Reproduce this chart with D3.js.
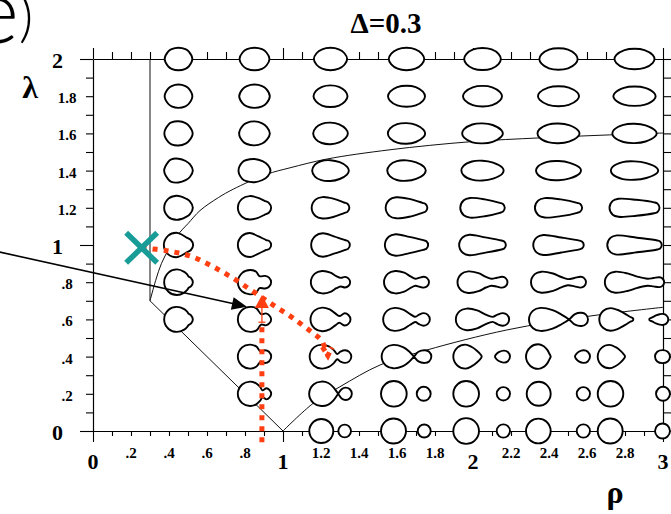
<!DOCTYPE html>
<html>
<head>
<meta charset="utf-8">
<script src="https://cdn.jsdelivr.net/npm/d3@7"></script>
<style>
  body { margin: 0; background: #fff; }
  svg { display: block; }
  .serif { font-family: "Liberation Serif", "Times New Roman", serif; }
</style>
</head>
<body>
<script>
const width = 671, height = 514;

// grid of droplet shapes: column positions (rho) and row values (lambda)
const rho_cols = [0.45, 0.85, 1.25, 1.65, 2.05, 2.45, 2.85];
const lambda_rows = [2, 1.8, 1.6, 1.4, 1.2, 1, 0.8, 0.6, 0.4, 0.2, 0];

// tick labels
const rho_ticks = [0, 0.2, 0.4, 0.6, 0.8, 1, 1.2, 1.4, 1.6, 1.8, 2, 2.2, 2.4, 2.6, 2.8, 3];
const rho_tick_labels = ['0', '.2', '.4', '.6', '.8', '1', '1.2', '1.4', '1.6', '1.8', '2', '2.2', '2.4', '2.6', '2.8', '3'];
const lambda_ticks = [0, 0.2, 0.4, 0.6, 0.8, 1, 1.2, 1.4, 1.6, 1.8, 2];
const lambda_tick_labels = ['0', '.2', '.4', '.6', '.8', '1', '1.2', '1.4', '1.6', '1.8', '2'];

// phase boundaries [rho, lambda]
const wall_line = [[0.3, 2], [0.3, 0.7]];
const lower_left_line = [[0.3, 0.7], [1.0, 0]];
const upper_curve = [[0.3, 0.70], [0.33, 0.81], [0.36, 0.9], [0.40, 0.98], [0.446, 1.055], [0.50, 1.115],
  [0.563, 1.185], [0.66, 1.255], [0.738, 1.30], [0.914, 1.38], [1.037, 1.415], [1.23, 1.462],
  [1.563, 1.512], [1.984, 1.555], [2.353, 1.576], [2.72, 1.592], [3.0, 1.602]];
const lower_curve = [[1.0, 0], [1.159, 0.149], [1.3, 0.238], [1.511, 0.355], [1.756, 0.435],
  [2.177, 0.543], [2.616, 0.618], [3.0, 0.665]];

// annotations [rho, lambda]
const start_mark = [0.256, 0.985];
const red_track = [[0.256, 0.985], [0.388, 0.969], [0.511, 0.941], [0.625, 0.887], [0.738, 0.821],
  [0.844, 0.749], [0.949, 0.677], [1.054, 0.606], [1.159, 0.525], [1.201, 0.489], [1.236, 0.405]];
const red_track_barbs = [[1.207, 0.452], [1.236, 0.405], [1.258, 0.45]];
const red_rise = { rho: 0.889, from: -0.06, dots_to: 0.585, tip: 0.731 };
const black_arrow = [[-0.5, 0.964], [0.81, 0.668]];

// droplet outlines, in hundredths of rho, relative to the cell centre:
// [left end, right end, left cap radius, right cap radius, [u, half height, ...]]
const shapes_2_0 = [
  [[-7.29, 7.29, 4.85, 4.85, [.25, 5.15, .5, 5.95, .75, 5.15]]],
  [[-7.89, 7.89, 4.48, 4.48, [.25, 5.15, .5, 5.95, .75, 5.15]]],
  [[-8.76, 8.76, 3.96, 3.96, [.25, 5.11, .5, 5.89, .75, 5.11]]],
  [[-9.34, 9.34, 3.72, 3.72, [.25, 5.11, .5, 5.89, .75, 5.11]]],
  [[-9.66, 9.66, 3.47, 3.47, [.25, 5.02, .5, 5.79, .75, 5.02]]],
  [[-10.08, 10.08, 3.15, 3.15, [.25, 4.88, .5, 5.63, .75, 4.88]]],
  [[-10.53, 10.53, 2.79, 2.79, [.25, 4.69, .5, 5.42, .75, 4.69]]]
];
const shapes_1_8 = [
  [[-7.29, 7.29, 5.2, 5.2, [.25, 5.33, .5, 6.16, .75, 5.33]]],
  [[-8.05, 8.05, 4.71, 4.71, [.25, 5.33, .5, 6.16, .75, 5.33]]],
  [[-8.95, 8.95, 3.61, 3.61, [.25, 4.92, .5, 5.68, .75, 4.92]]],
  [[-9.74, 9.74, 3.14, 3.14, [.25, 4.78, .5, 5.53, .75, 4.78]]],
  [[-10.26, 10.26, 2.86, 2.86, [.25, 4.69, .5, 5.42, .75, 4.69]]],
  [[-10.79, 10.79, 2.57, 2.57, [.25, 4.56, .5, 5.26, .75, 4.56]]],
  [[-11.13, 11.13, 2.34, 2.34, [.25, 4.42, .5, 5.1, .75, 4.42]]]
];
const shapes_1_6 = [
  [[-7.45, 7.45, 6.05, 4.84, [.25, 5.74, .5, 6.37, .75, 5.37]]],
  [[-8.08, 8.08, 5.42, 4.32, [.25, 5.58, .5, 6.32, .75, 5.32]]],
  [[-9.13, 9.13, 4.05, 3.1, [.25, 5.05, .5, 5.68, .75, 4.74]]],
  [[-9.82, 9.82, 3.42, 2.63, [.25, 4.84, .5, 5.42, .75, 4.53]]],
  [[-10.71, 10.71, 2.95, 2.26, [.25, 4.68, .5, 5.26, .75, 4.42]]],
  [[-11.05, 11.05, 2.84, 2.11, [.25, 4.63, .5, 5.21, .75, 4.37]]],
  [[-11.66, 11.66, 2.58, 1.89, [.25, 4.53, .5, 5.1, .75, 4.26]]]
];
const shapes_1_4 = [
  [[-7.55, 7.55, 6.05, 4.4, [.25, 5.95, .5, 6.26, .75, 5.05]]],
  [[-8.42, 8.42, 5.84, 3.8, [.25, 5.58, .5, 6.11, .75, 4.95]]],
  [[-9.66, 9.66, 4.11, 2.8, [.25, 5.05, .5, 5.47, .75, 4.42]]],
  [[-10.13, 10.13, 3.79, 2.6, [.25, 4.95, .5, 5.37, .75, 4.32]]],
  [[-11.13, 11.13, 3.21, 2.2, [.25, 4.79, .5, 5.21, .75, 4.21]]],
  [[-11.84, 11.84, 2.84, 2.0, [.25, 4.63, .5, 5.05, .75, 4.11]]],
  [[-12.45, 12.45, 2.53, 1.75, [.25, 4.47, .5, 4.84, .75, 3.89]]]
];
const shapes_1_2 = [
  [[-7.55, 7.55, 6.32, 4.6, [.418, 6.32, .6, 5.9, .75, 4.9]]],
  [[-8.76, 8.76, 6.16, 3.4, [.351, 6.16, .586, 5.4, .8, 3.7]]],
  [[-9.92, 9.92, 5.63, 2.79, [.284, 5.63, .572, 4.84, .859, 2.79]]],
  [[-10.97, 10.97, 5.53, 2.63, [.252, 5.53, .566, 4.72, .88, 2.63]]],
  [[-11.71, 11.71, 5.16, 2.63, [.22, 5.16, .554, 4.45, .888, 2.63]]],
  [[-12.42, 12.42, 5.11, 2.63, [.206, 5.11, .55, 4.41, .894, 2.63]]],
  [[-13.16, 13.16, 4.74, 2.89, [.18, 4.74, .535, 4.21, .89, 2.89]]]
];
const shapes_1_0 = [
  [[-7.71, 7.71, 6.47, 3.6, [.42, 6.47, .62, 5.4, .78, 3.9]]],
  [[-8.76, 8.76, 6.32, 2.63, [.36, 6.32, .605, 4.66, .85, 2.63]]],
  [[-10.18, 10.18, 6.16, 2.63, [.302, 6.16, .587, 4.57, .871, 2.63]]],
  [[-11.39, 11.39, 5.68, 2.53, [.249, 5.68, .569, 4.26, .889, 2.53]]],
  [[-12.29, 12.29, 5.37, 2.37, [.218, 5.37, .561, 4.02, .904, 2.37]]],
  [[-13.29, 13.29, 5.26, 2.26, [.198, 5.26, .556, 3.92, .915, 2.26]]],
  [[-14.34, 14.34, 5.05, 2.37, [.176, 5.05, .547, 3.84, .917, 2.37]]]
];
const shapes_0_8 = [
  [[-7.55, 7.55, 6.74, 2.89, [.446, 6.74, .7, 5.47, .8, 4.11, .855, 2.95]]],
  [[-8.76, 8.76, 6.42, 3.16, [.366, 6.42, .55, 5.53, .65, 3.16, .82, 3.32]]],
  [[-10.34, 10.34, 5.89, 2.63, [.285, 5.89, .5, 5.05, .65, 3.16, .76, 2.26, .87, 2.79]]],
  [[-11.84, 11.84, 5.89, 2.79, [.249, 5.89, .45, 5.0, .6, 2.89, .7, 1.84, .79, 2.4, .882, 2.85]]],
  [[-13.16, 13.16, 5.68, 2.79, [.216, 5.68, .42, 4.74, .57, 2.79, .68, 1.84, .79, 2.35, .894, 2.85]]],
  [[-14.47, 14.47, 5.53, 2.79, [.19, 5.53, .4, 4.58, .55, 2.74, .67, 1.63, .79, 2.2, .904, 2.85]]],
  [[-15.61, 15.61, 5.53, 2.53, [.177, 5.53, .38, 4.63, .55, 2.95, .72, 1.84, .82, 2.2, .919, 2.6]]]
];
const shapes_0_6 = [
  [[-7.55, 7.55, 6.58, 2.89, [.435, 6.58, .7, 5.37, .8, 4.05, .855, 2.95]]],
  [[-8.76, 8.76, 6.58, 2.79, [.375, 6.58, .56, 5.79, .7, 2.74, .84, 3.16]]],
  [[-10.53, 10.53, 6.21, 3.05, [.295, 6.21, .48, 5.26, .62, 3.16, .72, 1.79, .855, 3.21]]],
  [[-12.29, 12.29, 6.05, 3.26, [.246, 6.05, .44, 5.0, .58, 2.79, .69, 1.37, .77, 2.53, .867, 3.32]]],
  [[-14.03, 14.03, 5.68, 3.26, [.203, 5.68, .4, 4.74, .55, 2.63, .69, 1.32, .78, 2.53, .884, 3.32]]],
  [[-15.53, 15.53, 6.05, -3.42, [.195, 6.05, .4, 4.89, .55, 2.53, .68, 0, .78, -2.79, .89, -3.47]]],
  [[-18.53, -0.63, 5.95, 0.79, [.332, 5.95, .55, 4.95, .75, 3.05, .9, 1.37]],
   [7.79, 17.79, 0.68, 2.79, [.15, 1.05, .35, 2.11, .55, 2.74, .72, 2.89]]]
];
const shapes_0_4 = [
  null,
  [[-8.79, 8.79, 6.32, 3.32, [.36, 6.32, .55, 5.37, .69, 2.53, .81, 3.37]]],
  [[-10.97, 10.97, 6.32, 3.26, [.288, 6.32, .46, 5.42, .58, 3.42, .66, 1.37, .74, 2.63, .851, 3.32]]],
  [[-13.08, 13.08, 6.16, -3.32, [.235, 6.16, .43, 5.0, .55, 2.79, .65, 0, .74, -2.53, .873, -3.32]]],
  [[-15.37, -0.42, 6.32, 1.32, [.42, 6.32, .65, 5.05, .82, 3.26]],
   [6.58, 14.47, 1.32, 3.16, [.25, 2.32, .6, 3.16]]],
  [[-17.11, -4.11, 6.47, 2.11, [.49, 6.47, .72, 5.42, .87, 3.42]],
   [8.68, 16.58, 1.58, 3.32, [.25, 2.53, .58, 3.32]]],
  [[-19.37, -5.0, 6.16, 1.32, [.43, 6.16, .66, 4.95, .83, 3.16]],
   [10.79, 18.68, 3.32, 3.32, [.5, 3.42]]]
];
const shapes_0_2 = [
  null,
  [[-8.79, 8.79, 6.42, 2.63, [.365, 6.42, .55, 5.53, .67, 3.63, .74, 1.84, .86, 2.95]]],
  [[-11.24, 11.24, 6.42, -3.26, [.286, 6.42, .45, 5.68, .57, 3.42, .68, 0, .76, -2.42, .855, -3.26]]],
  [[-13.42, 0.11, 6.76, 6.76, [.5, 6.76]], [5.37, 12.74, 3.68, 3.68, [.5, 3.68]]],
  [[-15.37, -1.84, 6.76, 6.76, [.5, 6.76]], [7.47, 14.47, 3.5, 3.5, [.5, 3.5]]],
  [[-16.74, -4.11, 6.32, 6.32, [.5, 6.32]], [9.58, 16.58, 3.5, 3.5, [.5, 3.5]]],
  [[-19.37, -5.89, 6.74, 6.74, [.5, 6.74]], [11.32, 18.68, 3.68, 3.68, [.5, 3.68]]]
];
const shapes_0_0 = [
  null,
  null,
  [[-11.16, 1.47, 6.32, 6.32, [.5, 6.32]], [4.11, 10.79, 3.34, 3.34, [.5, 3.34]]],
  [[-13.42, -0.26, 6.58, 6.58, [.5, 6.58]], [5.89, 12.74, 3.42, 3.42, [.5, 3.42]]],
  [[-15.37, -1.84, 6.76, 6.76, [.5, 6.76]], [7.47, 14.47, 3.5, 3.5, [.5, 3.5]]],
  [[-17.11, -4.11, 6.5, 6.5, [.5, 6.5]], [9.58, 16.58, 3.5, 3.5, [.5, 3.5]]],
  [[-19.37, -6.21, 6.58, 6.58, [.5, 6.58]], [10.79, 18.68, 3.95, 3.95, [.5, 3.95]]]
];
const shape_rows = [shapes_2_0, shapes_1_8, shapes_1_6, shapes_1_4, shapes_1_2, shapes_1_0,
  shapes_0_8, shapes_0_6, shapes_0_4, shapes_0_2, shapes_0_0];

const red = '#ff3f12';
const teal = '#179c98';

const x = d3.scaleLinear().domain([0, 3]).range([93, 663]);
const y = d3.scaleLinear().domain([0, 2]).range([431, 59]);
const glyph = d3.scaleLinear().domain([0, 100]).range([0, x(1) - x(0)]);

const svg = d3.select('body').append('svg')
  .attr('width', width)
  .attr('height', height);

const is_major = (d) => Math.abs(d - Math.round(d)) < 1e-6;
const tenths = (n) => d3.range(0, n * 10 + 1).map((i) => i / 10);

function draw_axis(axis, transform, minor, major, attr) {
  const g = svg.append('g')
    .attr('transform', transform)
    .call(axis.tickValues(tenths(axis.scale().domain()[1])).tickSize(minor).tickSizeOuter(0).tickFormat(''));
  g.selectAll('.tick line')
    .attr('stroke-width', 1.1)
    .attr(attr, function(d) {
      const v = +d3.select(this).attr(attr);
      return is_major(d) ? Math.sign(v) * major : v;
    });
  g.select('.domain').attr('stroke-width', 1.2);
}

draw_axis(d3.axisBottom(x), 'translate(0,' + y(0) + ')', 5, 11, 'y2');
draw_axis(d3.axisTop(x), 'translate(0,' + y(2) + ')', 7, 11, 'y2');
draw_axis(d3.axisLeft(y), 'translate(' + x(0) + ',0)', 7, 13, 'x2');
draw_axis(d3.axisRight(y), 'translate(' + x(3) + ',0)', 8, 11, 'x2');

// tick labels
svg.append('g')
  .attr('class', 'serif')
  .attr('font-weight', 'bold')
  .attr('text-anchor', 'middle')
  .selectAll('text')
  .data(rho_ticks)
  .join('text')
    .attr('x', (d) => x(d))
    .attr('y', (d) => is_major(d) ? 469 : 457.5)
    .attr('font-size', (d) => is_major(d) ? 22 : 15)
    .text((d, i) => rho_tick_labels[i]);

svg.append('g')
  .attr('class', 'serif')
  .attr('font-weight', 'bold')
  .attr('text-anchor', 'middle')
  .selectAll('text')
  .data(lambda_ticks)
  .join('text')
    .attr('x', (d) => is_major(d) ? 57.5 : 67)
    .attr('y', (d) => y(d) + (is_major(d) ? 8.5 : 7))
    .attr('font-size', (d) => is_major(d) ? 22 : 15)
    .text((d, i) => lambda_tick_labels[i]);

// phase boundaries
const boundary = d3.line().x((d) => x(d[0])).y((d) => y(d[1]));
const boundary_g = svg.append('g')
  .attr('fill', 'none')
  .attr('stroke', '#111')
  .attr('stroke-width', 1);
boundary_g.append('path').attr('d', boundary(wall_line));
boundary_g.append('path').attr('d', boundary(lower_left_line));
boundary_g.append('path').attr('d', boundary.curve(d3.curveCatmullRom.alpha(0.5))(upper_curve));
boundary_g.append('path').attr('d', boundary(lower_curve));

// droplet shapes
const cap_angle = 50 * Math.PI / 180;

function outline(b) {
  const [x0, x1, r0, r1, pts] = b;
  const len = x1 - x0;
  const s = Math.sin(cap_angle), c = 1 - Math.cos(cap_angle);
  const top = [[x0, 0], [x0 + Math.abs(r0) * c, r0 * s]];
  for (let i = 0; i < pts.length; i += 2) top.push([x0 + pts[i] * len, pts[i + 1]]);
  top.push([x1 - Math.abs(r1) * c, r1 * s], [x1, 0]);
  const bottom = top.slice(1, -1).reverse().map((p) => [p[0], -p[1]]);
  return top.concat(bottom);
}

const shapes_g = svg.append('g')
  .attr('fill', '#fff')
  .attr('stroke', '#000')
  .attr('stroke-width', 1.9)
  .attr('stroke-linejoin', 'round');

lambda_rows.forEach((lam, r) => {
  shape_rows[r].forEach((cell, c) => {
    if (!cell) return;
    const blob_line = d3.line()
      .x((p) => x(rho_cols[c]) + glyph(p[0]))
      .y((p) => y(lam) - glyph(p[1]))
      .curve(d3.curveCatmullRomClosed.alpha(0.5));
    cell.forEach((b) => {
      shapes_g.append('path').attr('d', blob_line(outline(b)));
    });
  });
});

// annotations
const track = d3.line().x((d) => x(d[0])).y((d) => y(d[1]));

const ax0 = x(black_arrow[0][0]), ay0 = y(black_arrow[0][1]);
const ax1 = x(black_arrow[1][0]), ay1 = y(black_arrow[1][1]);
const alen = Math.hypot(ax1 - ax0, ay1 - ay0);
const ux = (ax1 - ax0) / alen, uy = (ay1 - ay0) / alen;
svg.append('line')
  .attr('x1', ax0).attr('y1', ay0)
  .attr('x2', ax1 - ux * 10).attr('y2', ay1 - uy * 10)
  .attr('stroke', '#000')
  .attr('stroke-width', 1.6);
svg.append('path')
  .attr('d', 'M' + ax1 + ',' + ay1 +
    'L' + (ax1 - ux * 15 - uy * 6.5) + ',' + (ay1 - uy * 15 + ux * 6.5) +
    'L' + (ax1 - ux * 15 + uy * 6.5) + ',' + (ay1 - uy * 15 - ux * 6.5) + 'Z')
  .attr('fill', '#000');

const dotted = svg.append('g')
  .attr('fill', 'none')
  .attr('stroke', red)
  .attr('stroke-width', 5)
  .attr('stroke-dasharray', '5,6');
dotted.append('path').attr('d', track.curve(d3.curveCatmullRom.alpha(0.5))(red_track));
dotted.append('path').attr('d', d3.line().x((d) => x(d[0])).y((d) => y(d[1]))(red_track_barbs))
  .attr('stroke-dasharray', '5,4');
dotted.append('line')
  .attr('x1', x(red_rise.rho)).attr('y1', y(red_rise.from))
  .attr('x2', x(red_rise.rho)).attr('y2', y(red_rise.dots_to));

const rx = x(red_rise.rho), tip_y = y(red_rise.tip);
svg.append('line')
  .attr('x1', rx).attr('y1', y(red_rise.dots_to))
  .attr('x2', rx).attr('y2', tip_y + 10)
  .attr('stroke', red).attr('stroke-width', 1.3);
svg.append('line')
  .attr('x1', rx - 3.5).attr('y1', y(red_rise.dots_to))
  .attr('x2', rx + 3.5).attr('y2', y(red_rise.dots_to))
  .attr('stroke', red).attr('stroke-width', 1.3);
svg.append('path')
  .attr('d', 'M' + rx + ',' + tip_y + 'L' + (rx - 7) + ',' + (tip_y + 13) + 'L' + (rx + 7) + ',' + (tip_y + 13) + 'Z')
  .attr('fill', red);

const mx = x(start_mark[0]), my = y(start_mark[1]);
svg.append('g')
  .attr('stroke', teal)
  .attr('stroke-width', 5.5)
  .selectAll('line')
  .data([[-1, -1, 1, 1], [1, -1, -1, 1]])
  .join('line')
    .attr('x1', (d) => mx + d[0] * 15.5).attr('y1', (d) => my + d[1] * 15)
    .attr('x2', (d) => mx + d[2] * 15.5).attr('y2', (d) => my + d[3] * 15);

// titles
svg.append('text')
  .attr('class', 'serif')
  .attr('x', 386).attr('y', 33)
  .attr('text-anchor', 'middle')
  .attr('font-size', 29)
  .attr('font-weight', 'bold')
  .text('Δ=0.3');

svg.append('text')
  .attr('class', 'serif')
  .attr('x', 30).attr('y', 98)
  .attr('text-anchor', 'middle')
  .attr('font-size', 32)
  .attr('font-weight', 'bold')
  .text('λ');

svg.append('text')
  .attr('class', 'serif')
  .attr('x', 615).attr('y', 503)
  .attr('text-anchor', 'middle')
  .attr('font-size', 32)
  .attr('font-weight', 'bold')
  .text('ρ');

svg.append('text')
  .attr('x', -28).attr('y', 43)
  .attr('font-family', 'Lato, "Liberation Sans", Arial, sans-serif')
  .attr('font-weight', 300)
  .attr('font-size', 90)
  .text('e');
svg.append('text')
  .attr('x', 19).attr('y', 36)
  .attr('font-family', 'Lato, "Liberation Sans", Arial, sans-serif')
  .attr('font-weight', 300)
  .attr('font-size', 55)
  .text(')');
</script>
</body>
</html>
